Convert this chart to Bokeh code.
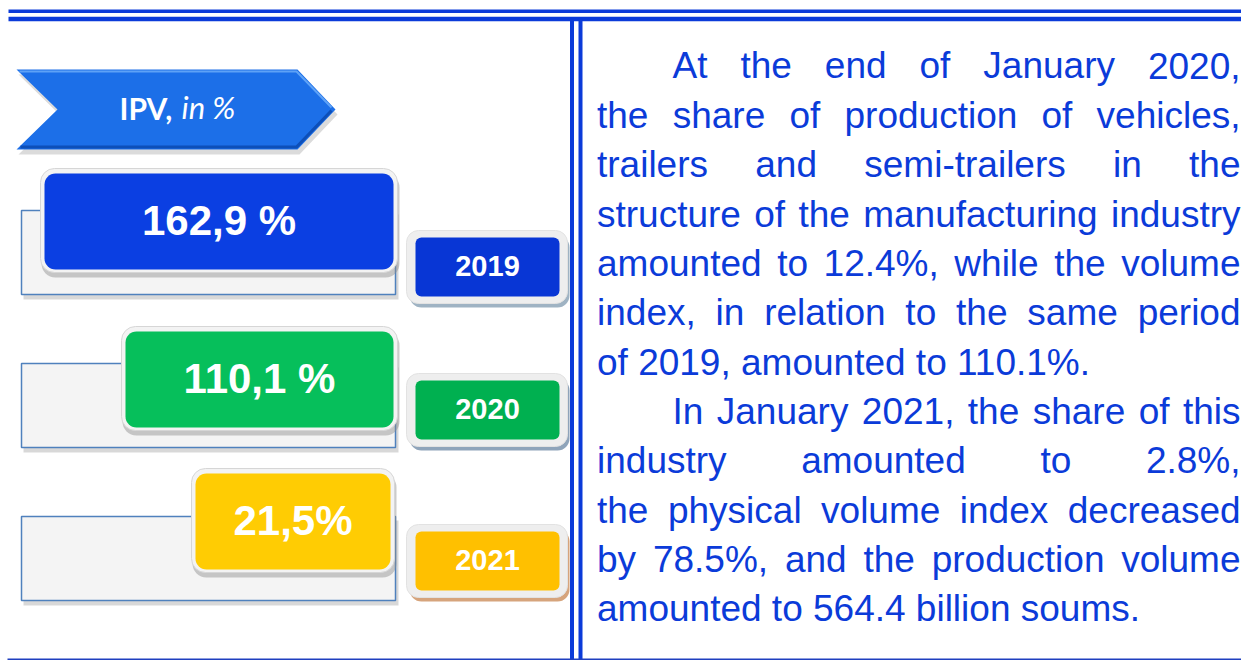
from bokeh.plotting import figure
from bokeh.models import Range1d
from bokeh.core.properties import value
from bokeh.embed import file_html
from bokeh.resources import INLINE

# ---------------- DATA ----------------
years = ["2019", "2020", "2021"]
ipv_values = [162.9, 110.1, 21.5]
value_labels = ["162,9 %", "110,1 %", "21,5%"]
banner_bold = "IPV,"
banner_italic = "in %"
paragraph_lines = [
    "At the end of January 2020,",
    "the share of production of vehicles,",
    "trailers and semi-trailers in the",
    "structure of the manufacturing industry",
    "amounted to 12.4%, while the volume",
    "index, in relation to the same period",
    "of 2019, amounted to 110.1%.",
    "In January 2021, the share of this",
    "industry amounted to 2.8%,",
    "the physical volume index decreased",
    "by 78.5%, and the production volume",
    "amounted to 564.4 billion soums.",
]
line_indent = [True, False, False, False, False, False, False, True, False, False, False, False]
line_justify = [True, True, True, True, True, True, False, True, True, True, True, False]

# ---------------- STYLE ----------------
BLUE = "#0b3bd9"
value_colors = ["#0b3fe2", "#06bf5b", "#ffcc03"]
year_colors = ["#0836d5", "#00b050", "#ffc000"]
year_shadow_colors = ["#9fb3c3", "#8fa4ba", "#d6a47c"]
FONT = value("Liberation Sans")
BASE_SHIFT = 0.38   # svg text baseline correction, in em

# ---------------- LAYOUT (page pixel space) ----------------
W, H = 1241, 660
frame_left, frame_right = 21, 395
frame_tops = [210, 363, 516]
frame_h = 84
vbox_lefts = [44, 125, 195]
vbox_rights = [393, 393, 390]
vbox_tops = [173, 331, 473]
vbox_h = 96
ybox_left, ybox_right = 415, 559
ybox_tops = [237, 380, 531]
ybox_h = 59
text_left, text_indent, text_right = 596.5, 672, 1240
first_baseline, line_step = 77.5, 49.36
para_size = 37

ARIAL = {' ': 278, '%': 889, ',': 278, '-': 333, '.': 278, 'A': 667, 'I': 278, 'J': 500,
         'a': 556, 'b': 556, 'c': 500, 'd': 556, 'e': 556, 'f': 278, 'g': 556, 'h': 556,
         'i': 222, 'j': 222, 'k': 500, 'l': 222, 'm': 833, 'n': 556, 'o': 556, 'p': 556,
         'q': 556, 'r': 333, 's': 500, 't': 278, 'u': 556, 'v': 500, 'w': 722, 'x': 500,
         'y': 500, 'z': 500}
for d in "0123456789":
    ARIAL[d] = 556


def tw(s, size):
    return sum(ARIAL.get(c, 556) for c in s) * size / 1000.0


def bl(y, size, k=BASE_SHIFT):
    return y - k * size


p = figure(width=W, height=H, output_backend="svg", toolbar_location=None,
           x_range=Range1d(0, W), y_range=Range1d(H, 0),
           min_border=0, border_fill_color="white", background_fill_color="white")
p.axis.visible = False
p.grid.visible = False
p.outline_line_color = None

# ---- frame lines ----
p.segment(x0=[8, 8], y0=[10.7, 18.5], x1=[W, W], y1=[10.7, 18.5],
          line_color=BLUE, line_width=[3.5, 4.5])
p.segment(x0=[571.5, 580], y0=[18, 18], x1=[571.5, 580], y1=[H, H],
          line_color=BLUE, line_width=4)
p.segment(x0=[7], y0=[659], x1=[W], y1=[659], line_color="#1f3fbf", line_width=2)

# ---- banner arrow ----
ax = [16, 297, 335, 297, 16, 57]
ay = [69, 69, 109, 149, 149, 109]
p.patch([x + 2 for x in ax], [y + 5 for y in ay], fill_color="#b0b0b0", fill_alpha=0.45, line_color=None)
p.patch(ax, ay, fill_color="#1c6fe8", line_color=None)
p.line([20, 296, 331], [146.5, 146.5, 110], line_color="#0d4fb8", line_width=3)
p.line([19, 296, 331], [71, 71, 107], line_color="#5ea2f6", line_width=2)
p.text(x=[119], y=[bl(120, 30, 0.42)], text=[banner_bold], text_font=value("Lato"), text_font_size="30px",
       text_font_style="bold", text_color="white", text_baseline="alphabetic", text_align="left")
p.text(x=[181], y=[bl(120, 31, 0.42)], text=[banner_italic], text_font=value("Lato"), text_font_size="31px",
       text_font_style="italic", text_color="white", text_baseline="alphabetic", text_align="left")

# ---- rows ----
for i in range(len(years)):
    ft = frame_tops[i]
    # frame shadow + frame
    p.quad(left=[frame_left + 2], right=[frame_right + 3], top=[ft + 4], bottom=[ft + frame_h + 5],
           fill_color="#a8a8a8", fill_alpha=0.45, line_color=None)
    p.quad(left=[frame_left], right=[frame_right], top=[ft], bottom=[ft + frame_h],
           fill_color="#f4f4f4", line_color="#4f81bd", line_width=1.5)
    # value box
    vl, vr, vt = vbox_lefts[i], vbox_rights[i], vbox_tops[i]
    vb = vt + vbox_h
    p.quad(left=[vl - 3], right=[vr + 6], top=[vt], bottom=[vb + 8],
           fill_color="#8c8c8c", fill_alpha=0.45, line_color=None, border_radius=14)
    p.quad(left=[vl - 4], right=[vr + 4], top=[vt - 5], bottom=[vb + 3],
           fill_color="#f3f3f3", line_color="#d6d6d6", line_width=1, border_radius=14)
    p.quad(left=[vl], right=[vr], top=[vt], bottom=[vb],
           fill_color=value_colors[i], line_color=None, border_radius=11)
    p.text(x=[(vl + vr) / 2], y=[bl((vt + vb) / 2 + 0.716 * 42 / 2, 42)], text=[value_labels[i]],
           text_font=FONT, text_font_size="42px", text_font_style="bold", text_color="white",
           text_baseline="alphabetic", text_align="center")
    # year box
    yt = ybox_tops[i]
    yb = yt + ybox_h
    p.quad(left=[ybox_left - 6], right=[ybox_right + 10], top=[yt - 2], bottom=[yb + 11],
           fill_color=year_shadow_colors[i], line_color=None, border_radius=12)
    p.quad(left=[ybox_left - 9], right=[ybox_right + 8], top=[yt - 7], bottom=[yb + 7],
           fill_color="#eeeeee", line_color="#e2e2e2", line_width=1, border_radius=12)
    p.quad(left=[ybox_left], right=[ybox_right], top=[yt], bottom=[yb],
           fill_color=year_colors[i], line_color=None, border_radius=6)
    p.text(x=[(ybox_left + ybox_right) / 2], y=[bl((yt + yb) / 2 + 0.716 * 29 / 2, 29)], text=[years[i]],
           text_font=FONT, text_font_size="29px", text_font_style="bold", text_color="white",
           text_baseline="alphabetic", text_align="center")

# ---- paragraph text (justified) ----
wx, wy, wt = [], [], []
for k, line in enumerate(paragraph_lines):
    y = bl(first_baseline + k * line_step, para_size, 0.325)
    left = text_indent if line_indent[k] else text_left
    if line_justify[k]:
        words = line.split()
        widths = [tw(w, para_size) for w in words]
        gap = (text_right - left - sum(widths)) / (len(words) - 1)
        x = left
        for w, ww in zip(words, widths):
            wx.append(x); wy.append(y); wt.append(w)
            x += ww + gap
    else:
        wx.append(left); wy.append(y); wt.append(line)
p.text(x=wx, y=wy, text=wt, text_font=FONT, text_font_size=f"{para_size}px", text_color=BLUE,
       text_baseline="alphabetic", text_align="left")

open("out.html", "w").write(file_html(p, INLINE))
